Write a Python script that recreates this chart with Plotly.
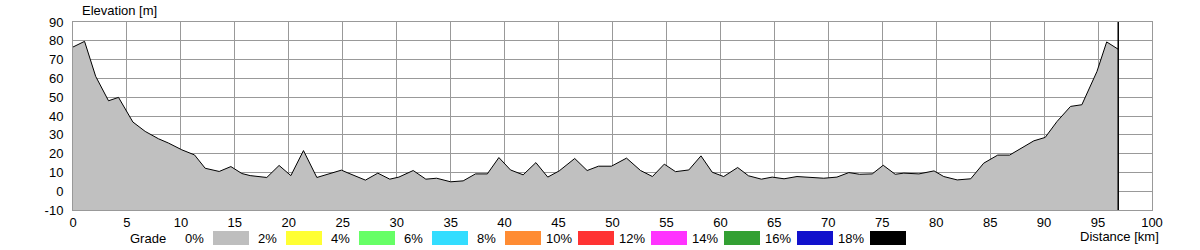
import plotly.graph_objects as go

# ---- data ----
distance_km = [0, 1.07, 2.1, 3.29, 4.22, 5.55, 6.69, 7.92, 8.85, 10.09, 11.26, 12.25,
               13.55, 14.63, 15.65, 16.42, 17.96, 19.1, 20.19, 21.36, 22.6, 24.88,
               25.4, 27.1, 28.25, 29.36, 30.2, 31.53, 32.7, 33.7, 35.0, 36.16, 37.3,
               38.4, 39.47, 40.55, 41.72, 42.9, 44.0, 45.06, 46.5, 47.65, 48.7, 49.9,
               51.3, 52.6, 53.7, 54.8, 55.84, 57.07, 58.2, 59.24, 60.3, 61.6, 62.6,
               63.8, 64.8, 65.9, 67.1, 68.66, 69.58, 70.8, 71.9, 72.9, 74.07, 75.09,
               76.2, 77.0, 78.4, 79.8, 80.7, 81.95, 83.2, 84.4, 85.7, 86.8, 87.97,
               89.05, 90.1, 91.2, 92.45, 93.5, 94.9, 95.8, 96.87]
elevation_m = [76.7, 79.7, 61.1, 48.1, 49.9, 36.8, 31.8, 27.9, 25.6, 22.0, 19.3, 12.2,
               10.5, 13.1, 9.4, 8.3, 7.3, 13.7, 8.3, 21.6, 7.3, 11.2,
               9.9, 5.9, 9.6, 6.4, 7.5, 11.0, 6.4, 6.9, 5.0, 5.5, 9.2,
               9.2, 17.9, 11.3, 8.7, 15.2, 7.5, 10.8, 17.4, 11.0, 13.3, 13.3,
               17.6, 11.0, 7.8, 14.4, 10.4, 11.3, 18.8, 10.1, 7.8, 12.6, 8.2,
               6.4, 7.5, 6.6, 7.8, 7.3, 6.9, 7.5, 9.9, 9.0, 9.2, 13.8,
               9.0, 9.6, 9.2, 10.8, 7.8, 6.0, 6.6, 14.9, 19.2, 19.2, 23.2,
               26.8, 28.6, 37.1, 45.1, 46.0, 63.7, 79.4, 75.5]
grade_labels = ["0%", "2%", "4%", "6%", "8%", "10%", "12%", "14%", "16%", "18%"]
grade_colors = ["#BEBEBE", "#FFFF33", "#66FF66", "#33DDFF", "#FF8C33",
                "#FF3333", "#FF33FF", "#33A033", "#1111CC", "#000000"]
x_ticks = list(range(0, 101, 5))
y_ticks = list(range(-10, 91, 10))
x_range = [0, 100]
y_range = [-10, 90]

W, H = 1200, 250
L, R, T, B = 73, 48, 22, 40
PW, PH = W - L - R, H - T - B
FONT = "Liberation Sans, Arial, sans-serif"
FS = 13


def px(xp):
    return (xp - L) / PW


def py(yp):
    return (H - B - yp) / PH


fig = go.Figure()
# baseline for fill down to the bottom of the axis
fig.add_trace(go.Scatter(x=distance_km, y=[y_range[0]] * len(distance_km),
                         mode="lines", line=dict(width=0, color="rgba(0,0,0,0)"),
                         hoverinfo="skip", showlegend=False))
fig.add_trace(go.Scatter(x=distance_km, y=elevation_m, mode="lines",
                         line=dict(color="#000000", width=1),
                         fill="tonexty", fillcolor="#C0C0C0", showlegend=False))

shapes = [dict(type="line", xref="x", yref="y", x0=distance_km[-1], x1=distance_km[-1],
               y0=y_range[0], y1=y_range[1], line=dict(color="#000000", width=1.5))]
annotations = [
    dict(text="Elevation [m]", xref="paper", yref="paper", x=px(80), y=py(11),
         xanchor="left", yanchor="middle", showarrow=False,
         font=dict(family=FONT, size=FS, color="#000")),
    dict(text="Distance [km]", xref="paper", yref="paper", x=px(1161), y=py(236),
         xanchor="right", yanchor="middle", showarrow=False,
         font=dict(family=FONT, size=FS, color="#000")),
    dict(text="Grade", xref="paper", yref="paper", x=px(148), y=py(238),
         xanchor="center", yanchor="middle", showarrow=False,
         font=dict(family=FONT, size=FS, color="#000")),
]
for i, (lab, col) in enumerate(zip(grade_labels, grade_colors)):
    bx = 213 + 73 * i
    shapes.append(dict(type="rect", xref="paper", yref="paper",
                       x0=px(bx), x1=px(bx + 36), y0=py(245), y1=py(231),
                       fillcolor=col, line=dict(width=0), layer="above"))
    annotations.append(dict(text=lab, xref="paper", yref="paper", x=px(bx - 19), y=py(238),
                            xanchor="center", yanchor="middle", showarrow=False,
                            font=dict(family=FONT, size=FS, color="#000")))

axis_common = dict(showgrid=True, gridcolor="#999999", gridwidth=1, zeroline=False,
                   showline=True, linecolor="#999999", linewidth=1, mirror=True,
                   ticks="", tickfont=dict(family=FONT, size=FS, color="#000"),
                   fixedrange=True)
fig.update_layout(
    width=W, height=H, margin=dict(l=L, r=R, t=T, b=B, pad=0),
    paper_bgcolor="white", plot_bgcolor="white",
    xaxis=dict(range=x_range, tickvals=x_ticks, ticktext=[str(v) for v in x_ticks],
               **axis_common),
    yaxis=dict(range=y_range, tickvals=y_ticks, ticktext=[str(v) for v in y_ticks],
               ticklabelstandoff=6, **axis_common),
    shapes=shapes, annotations=annotations, showlegend=False,
)
fig.write_html("out.html")
